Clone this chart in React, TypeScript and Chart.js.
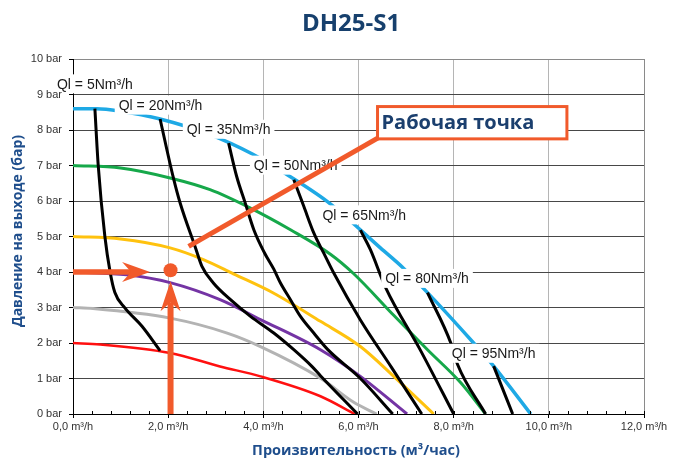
import React, { useEffect, useRef } from "react";
import { Chart, registerables } from "chart.js";

Chart.register(...registerables);

// ---------- Axis ticks ----------
const xTickValues = [0, 2, 4, 6, 8, 10, 12];
const xTickLabels = ["0,0 m³/h", "2,0 m³/h", "4,0 m³/h", "6,0 m³/h", "8,0 m³/h", "10,0 m³/h", "12,0 m³/h"];
const yTickValues = [0, 1, 2, 3, 4, 5, 6, 7, 8, 9, 10];
const yTickLabels = ["0 bar", "1 bar", "2 bar", "3 bar", "4 bar", "5 bar", "6 bar", "7 bar", "8 bar", "9 bar", "10 bar"];

// ---------- Pump curves (x: m³/h, y: bar) ----------
const curveBlue = [[0, 8.6], [0.5, 8.6], [1.0, 8.53], [1.83, 8.31], [2.88, 7.87], [3.76, 7.33], [4.43, 6.8], [5.34, 5.99], [5.86, 5.4], [6.46, 4.68], [6.95, 4.1], [7.45, 3.42], [8.42, 2.0], [8.84, 1.35], [9.62, 0]];
const curveGreen = [[0, 7], [1, 6.93], [2.04, 6.65], [2.88, 6.32], [3.73, 5.8], [4.57, 5.19], [5.41, 4.5], [5.9, 3.95], [6.74, 2.78], [7.45, 1.81], [8.15, 0.88], [8.67, 0]];
const curveYellow = [[0, 5], [1, 4.93], [2.04, 4.68], [2.74, 4.35], [3.37, 3.95], [4.21, 3.41], [5.2, 2.61], [6.04, 1.9], [6.74, 1.06], [7.58, 0]];
const curvePurple = [[0, 4], [1.13, 3.92], [2.04, 3.7], [3.09, 3.22], [3.94, 2.66], [5.2, 1.81], [6.04, 1.06], [7.02, 0]];
const curveGrey = [[0, 3], [0.42, 2.97], [2.04, 2.7], [3.24, 2.28], [3.94, 1.9], [5.2, 1.01], [5.9, 0.33], [6.38, 0]];
const curveRed = [[0, 2], [0.57, 1.96], [2.04, 1.72], [3.09, 1.34], [3.94, 1.06], [5.2, 0.5], [5.92, 0]];

// ---------- Air-flow (Ql) curves ----------
const ql5 = [[0.46, 8.6], [0.53, 7.0], [0.67, 5.0], [0.78, 4.0], [0.88, 3.42], [1.09, 2.99], [1.45, 2.47], [1.83, 1.78]];
const ql20 = [[1.83, 8.31], [2.11, 6.65], [2.25, 5.95], [2.57, 4.7], [2.71, 4.16], [2.95, 3.69], [3.31, 3.22], [3.73, 2.75], [4.22, 2.28], [4.64, 1.81], [5.02, 1.34], [5.2, 1.08], [5.98, 0]];
const ql35 = [[3.27, 7.63], [3.44, 6.69], [3.62, 5.94], [3.8, 5.19], [4.02, 4.55], [4.22, 4.08], [4.36, 3.69], [4.57, 3.22], [4.78, 2.75], [5.06, 2.28], [5.35, 1.82], [6.04, 1.0], [6.72, 0]];
const ql50 = [[4.64, 6.6], [4.85, 5.85], [5.06, 5.1], [5.27, 4.53], [5.48, 3.97], [6.04, 2.65], [6.7, 1.3], [7.33, 0]];
const ql65 = [[6.04, 5.18], [6.25, 4.63], [6.57, 3.56], [7.3, 1.8], [8.0, 0]];
const ql80 = [[7.45, 3.42], [7.94, 2.0], [8.08, 1.4], [8.67, 0]];
const ql95 = [[8.84, 1.35], [9.24, 0]];

// ---------- Ql labels (centre position in data units) ----------
const qlLabelTexts = ["Ql = 5Nm³/h", "Ql = 20Nm³/h", "Ql = 35Nm³/h", "Ql = 50Nm³/h", "Ql = 65Nm³/h", "Ql = 80Nm³/h", "Ql = 95Nm³/h"];
const qlLabelX = [0.46, 1.84, 3.27, 4.68, 6.12, 7.44, 8.84];
const qlLabelY = [9.3, 8.7, 8.02, 7.01, 5.61, 3.82, 1.71];

// ---------- Working point annotation (data units) ----------
const workPoint = [2.05, 4.05];
const hArrowFrom = [0, 4.0];
const hArrowTo = [1.62, 4.0];
const vArrowFrom = [2.05, 0];
const vArrowTo = [2.05, 3.74];
const calloutText = "Рабочая точка";
const calloutBox = [6.4, 8.66, 10.38, 7.75]; // left, top, right, bottom
const calloutLeaderFrom = [6.44, 7.8];
const calloutLeaderTo = [2.43, 4.72];

const titleText = "DH25-S1";
const xTitleText = "Произвительность (м³/час)";
const yTitleText = "Давление на выходе (бар)";

const ORANGE = "#F15A2B";
const NAVY = "#17406D";
const AXIS_BLUE = "#1F4E8C";

const toXY = (arr: number[][]) => arr.map(([x, y]) => ({ x, y }));

function drawArrow(ctx: CanvasRenderingContext2D, x1: number, y1: number, x2: number, y2: number, w: number, headLen: number, headHalf: number, notch: number) {
  const ang = Math.atan2(y2 - y1, x2 - x1);
  const c = Math.cos(ang), s = Math.sin(ang);
  const bx = x2 - c * headLen, by = y2 - s * headLen;
  const nx = x2 - c * (headLen - notch), ny = y2 - s * (headLen - notch);
  ctx.lineWidth = w;
  ctx.lineCap = "butt";
  ctx.beginPath();
  ctx.moveTo(x1, y1);
  ctx.lineTo(nx, ny);
  ctx.stroke();
  ctx.beginPath();
  ctx.moveTo(x2, y2);
  ctx.lineTo(bx - s * headHalf, by + c * headHalf);
  ctx.lineTo(nx, ny);
  ctx.lineTo(bx + s * headHalf, by - c * headHalf);
  ctx.closePath();
  ctx.fill();
}

const overlayPlugin = {
  id: "overlay",
  afterDatasetsDraw(chart: any) {
    const ctx: CanvasRenderingContext2D = chart.ctx;
    const xs = chart.scales.x, ys = chart.scales.y;
    const px = (v: number) => xs.getPixelForValue(v);
    const py = (v: number) => ys.getPixelForValue(v);
    const area = chart.chartArea;
    ctx.save();

    // minor ticks on x axis
    ctx.strokeStyle = "#000";
    ctx.lineWidth = 1;
    for (let i = 0; i <= 30; i++) {
      const v = i * 0.4;
      const x = Math.round(px(v)) + 0.5;
      ctx.beginPath();
      ctx.moveTo(x, area.bottom);
      ctx.lineTo(x, area.bottom - 3);
      ctx.stroke();
    }

    // Ql labels with white background
    ctx.font = '14px "Liberation Sans", Arial, sans-serif';
    ctx.textAlign = "center";
    ctx.textBaseline = "middle";
    qlLabelTexts.forEach((t, i) => {
      const cx = px(qlLabelX[i]);
      const cy = py(qlLabelY[i]);
      const w = ctx.measureText(t).width;
      ctx.fillStyle = "#fff";
      ctx.fillRect(cx - w / 2 - 4, cy - 9.5, w + 8, 19);
      ctx.fillStyle = "#1a1a1a";
      ctx.fillText(t, cx, cy + 1);
    });

    // y tick labels (drawn on top of label boxes)
    ctx.font = '11px "Liberation Sans", Arial, sans-serif';
    ctx.textAlign = "right";
    ctx.fillStyle = "#333";
    yTickValues.forEach((v, i) => {
      ctx.fillText(yTickLabels[i], area.left - 11, py(v));
    });

    // working point annotation
    ctx.strokeStyle = ORANGE;
    ctx.fillStyle = ORANGE;
    drawArrow(ctx, px(hArrowFrom[0]), py(hArrowFrom[1]), px(hArrowTo[0]), py(hArrowTo[1]), 5.5, 28, 10, 9);
    drawArrow(ctx, px(vArrowFrom[0]), py(vArrowFrom[1]), px(vArrowTo[0]), py(vArrowTo[1]), 6, 30, 10, 9);
    ctx.beginPath();
    ctx.arc(px(workPoint[0]), py(workPoint[1]), 7, 0, Math.PI * 2);
    ctx.fill();

    // callout leader line
    ctx.lineWidth = 5;
    ctx.beginPath();
    ctx.moveTo(px(calloutLeaderFrom[0]), py(calloutLeaderFrom[1]));
    ctx.lineTo(px(calloutLeaderTo[0]), py(calloutLeaderTo[1]));
    ctx.stroke();

    // callout box
    const bl = px(calloutBox[0]), bt = py(calloutBox[1]), br = px(calloutBox[2]), bb = py(calloutBox[3]);
    ctx.fillStyle = "#fff";
    ctx.fillRect(bl, bt, br - bl, bb - bt);
    ctx.lineWidth = 3;
    ctx.strokeStyle = ORANGE;
    ctx.strokeRect(bl, bt, br - bl, bb - bt);
    ctx.fillStyle = "#1B3F6E";
    ctx.font = 'bold 20px "Open Sans", "Noto Sans", sans-serif';
    ctx.textAlign = "left";
    ctx.textBaseline = "middle";
    ctx.fillText(calloutText, bl + 4, (bt + bb) / 2 + 1);

    // titles
    ctx.fillStyle = NAVY;
    ctx.textAlign = "center";
    ctx.font = 'bold 24px "Open Sans", "Noto Sans", sans-serif';
    ctx.fillText(titleText, 351, 24);

    ctx.fillStyle = AXIS_BLUE;
    ctx.font = 'bold 14.5px "Open Sans", "Noto Sans", sans-serif';
    ctx.fillText(xTitleText, 356, 451);

    ctx.font = 'bold 14px "Open Sans", "Noto Sans", sans-serif';
    ctx.save();
    ctx.translate(18, 231);
    ctx.rotate(-Math.PI / 2);
    ctx.fillText(yTitleText, 0, 0);
    ctx.restore();

    ctx.restore();
  },
};

export default function App() {
  const ref = useRef<HTMLCanvasElement | null>(null);

  useEffect(() => {
    document.body.style.margin = "0";
    if (!ref.current) return;

    const colored = (data: number[][], color: string, width: number) => ({
      data: toXY(data),
      borderColor: color,
      backgroundColor: color,
      borderWidth: width,
      showLine: true,
      pointRadius: 0,
      fill: false,
      cubicInterpolationMode: "monotone" as const,
      order: 2,
    });
    const black = (data: number[][]) => ({
      data: toXY(data),
      borderColor: "#000",
      backgroundColor: "#000",
      borderWidth: 3,
      showLine: true,
      pointRadius: 0,
      fill: false,
      cubicInterpolationMode: "monotone" as const,
      order: 1,
    });

    const chart = new Chart(ref.current, {
      type: "scatter",
      data: {
        datasets: [
          colored(curveRed, "#FF1010", 2.5),
          colored(curveGrey, "#B3B3B3", 3),
          colored(curvePurple, "#7434A4", 3),
          colored(curveYellow, "#FFC20E", 3),
          colored(curveGreen, "#16A84A", 3),
          colored(curveBlue, "#1EA9E5", 3.5),
          black(ql5),
          black(ql20),
          black(ql35),
          black(ql50),
          black(ql65),
          black(ql80),
          black(ql95),
        ] as any,
      },
      options: {
        responsive: false,
        animation: false,
        layout: { padding: { left: 0, top: 59, right: 36, bottom: 0 } },
        plugins: {
          legend: { display: false },
          tooltip: { enabled: false },
          title: { display: false },
        },
        scales: {
          x: {
            type: "linear",
            min: 0,
            max: 12,
            afterFit: (s: any) => {
              s.height = 48;
            },
            afterBuildTicks: (s: any) => {
              s.ticks = xTickValues.map((v) => ({ value: v }));
            },
            ticks: {
              callback: (v: any) => {
                const i = xTickValues.indexOf(Number(v));
                return i >= 0 ? xTickLabels[i] : "";
              },
              font: { family: '"Liberation Sans", Arial, sans-serif', size: 11 },
              color: "#333",
              padding: 2,
              maxRotation: 0,
              autoSkip: false,
            },
            grid: {
              color: (c: any) => {
                const v = c.tick ? c.tick.value : -1;
                if (v === 0) return "#000";
                if (v === 12) return "#8a8a8a";
                return "#b5b5b5";
              },
              lineWidth: 1,
              tickLength: 4,
              tickColor: "#000",
              drawTicks: true,
            },
            border: { color: "#000", width: 1 },
          },
          y: {
            type: "linear",
            min: 0,
            max: 10,
            afterFit: (s: any) => {
              s.width = 73;
            },
            afterBuildTicks: (s: any) => {
              s.ticks = yTickValues.map((v) => ({ value: v }));
            },
            ticks: { display: false },
            grid: {
              color: (c: any) => {
                const v = c.tick ? c.tick.value : -1;
                if (v === 0) return "#000";
                if (v === 10) return "#8a8a8a";
                return "#474747";
              },
              lineWidth: 1,
              tickLength: 4,
              tickColor: "#000",
              drawTicks: true,
            },
            border: { color: "#000", width: 1 },
          },
        },
      } as any,
      plugins: [overlayPlugin],
    });

    return () => chart.destroy();
  }, []);

  return <canvas ref={ref} width={680} height={462} style={{ display: "block" }} />;
}
